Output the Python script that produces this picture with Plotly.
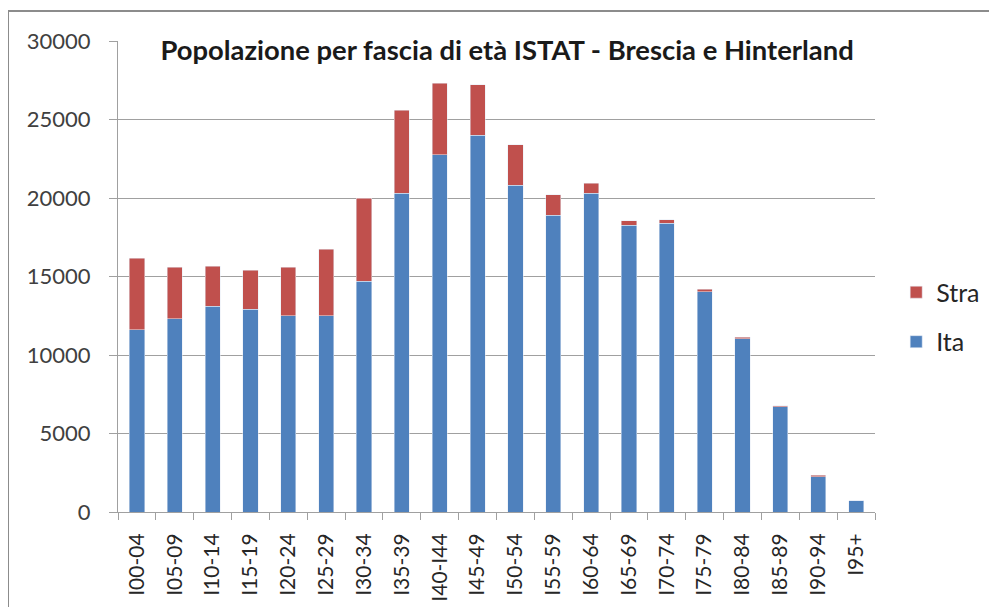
import plotly.graph_objects as go

categories = ["I00-04", "I05-09", "I10-14", "I15-19", "I20-24", "I25-29", "I30-34",
              "I35-39", "I40-I44", "I45-49", "I50-54", "I55-59", "I60-64", "I65-69",
              "I70-74", "I75-79", "I80-84", "I85-89", "I90-94", "I95+"]
ita = [11600, 12300, 13100, 12900, 12500, 12500, 14700, 20300, 22750, 24000,
       20800, 18900, 20300, 18250, 18400, 14030, 11040, 6690, 2250, 720]
totale = [16150, 15600, 15650, 15400, 15600, 16750, 20000, 25600, 27300, 27200,
          23400, 20200, 20950, 18550, 18620, 14180, 11130, 6780, 2340, 728]
stra = [t - i for t, i in zip(totale, ita)]

y_ticks = [0, 5000, 10000, 15000, 20000, 25000, 30000]
y_tick_labels = ["0", "5000", "10000", "15000", "20000", "25000", "30000"]
title_text = "Popolazione per fascia di età ISTAT - Brescia e Hinterland"

BLUE = "#4F81BD"
RED = "#C0504D"
FONT = "Lato, Carlito, Calibri, sans-serif"

fig = go.Figure()
fig.add_trace(go.Bar(x=categories, y=ita, name="Ita", marker_color=BLUE,
                     legendgroup="ita", legendrank=2))
fig.add_trace(go.Bar(x=categories, y=stra, name="Stra", marker_color=RED,
                     legendgroup="stra", legendrank=1))

fig.update_layout(
    width=981, height=599,
    barmode="stack", bargap=0.6,
    paper_bgcolor="white", plot_bgcolor="white",
    margin=dict(l=110, r=114, t=33, b=95, autoexpand=False),
    font=dict(family=FONT, color="#404040"),
    title=dict(text="<b>" + title_text + "</b>", xref="paper", yref="paper",
               x=0.514, y=0.981, xanchor="center", yanchor="middle",
               font=dict(family=FONT, size=27.4, color="#1a1a1a")),
    legend=dict(x=1.028, y=0.515, xanchor="left", yanchor="top",
                traceorder="grouped", tracegroupgap=14,
                font=dict(size=25, color="#262626"), bgcolor="rgba(0,0,0,0)"),
    shapes=[dict(type="rect", xref="paper", yref="paper",
                 x0=-0.1453, x1=1.3, y0=-0.4, y1=1.0637,
                 line=dict(color="#8c8c8c", width=2), layer="below")],
)
fig.update_yaxes(range=[0, 30000], tickvals=y_ticks, ticktext=y_tick_labels,
                 showgrid=True, gridcolor="#a0a0a0", gridwidth=1,
                 showline=True, linecolor="#a0a0a0", linewidth=1,
                 ticks="outside", ticklen=8, tickcolor="#a0a0a0",
                 ticklabelstandoff=14, automargin=False,
                 tickfont=dict(size=22, color="#404040"), zeroline=False)
fig.update_xaxes(showline=True, linecolor="#a0a0a0", linewidth=1,
                 ticks="outside", ticklen=7, tickcolor="#a0a0a0",
                 tickson="boundaries", tickangle=-90, ticklabelstandoff=12,
                 automargin=False,
                 tickfont=dict(size=21, color="#262626"))

fig.write_html("out.html")
